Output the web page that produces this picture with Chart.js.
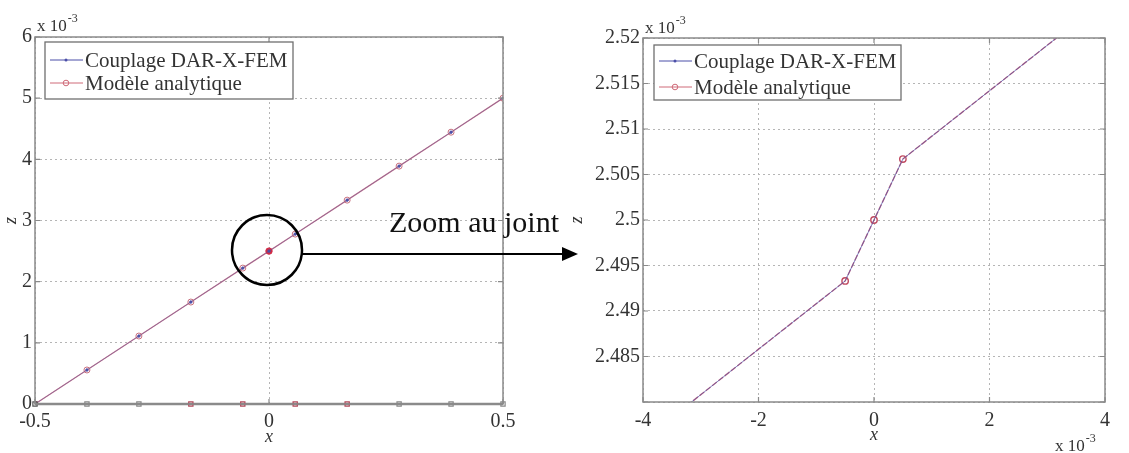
<!DOCTYPE html>
<html>
<head>
<meta charset="utf-8">
<script src="https://cdn.jsdelivr.net/npm/chart.js@4/dist/chart.umd.min.js"></script>
<style>
  body { margin: 0; background: #fff; width: 1129px; height: 453px; position: relative; overflow: hidden; font-family: 'Liberation Serif', serif; }
  #left { position: absolute; left: 0; top: 0; }
  #right { position: absolute; left: 560px; top: 0; }
  #overlay { position: absolute; left: 0; top: 0; pointer-events: none; }
  #zoomText { position: absolute; left: 389px; top: 205px; font-size: 30px; color: #111; white-space: nowrap; }
</style>
</head>
<body>
<canvas id="left" width="560" height="453"></canvas>
<canvas id="right" width="569" height="453"></canvas>
<svg id="overlay" width="1129" height="453">
  <circle cx="267" cy="250" r="35" fill="none" stroke="#000" stroke-width="2.5"/>
  <line x1="302" y1="254" x2="566" y2="254" stroke="#000" stroke-width="2"/>
  <polygon points="578,254 562,247 562,261" fill="#000"/>
</svg>
<div id="zoomText">Zoom au joint</div>
<script>
// left plot: whole bar, x in m, z in units of 1e-3
const nodeX = [-0.5, -0.389, -0.278, -0.167, -0.056, 0.056, 0.167, 0.278, 0.389, 0.5];
const nodeZero = [0, 0, 0, 0, 0, 0, 0, 0, 0, 0];
const nodeColors = ['#555', '#888', '#888', '#b04a5a', '#b04a5a', '#b04a5a', '#b04a5a', '#888', '#888', '#888'];
const fullX = [-0.5, -0.389, -0.278, -0.167, -0.056, 0, 0.056, 0.167, 0.278, 0.389, 0.5];
const fullCouplage = [0, 0.556, 1.111, 1.667, 2.222, 2.5, 2.778, 3.333, 3.889, 4.444, 5.0];
const fullAnalytique = [0, 0.556, 1.111, 1.667, 2.222, 2.5, 2.778, 3.333, 3.889, 4.444, 5.0];
const leftXTicks = [-0.5, 0, 0.5];
const leftYTicks = [0, 1, 2, 3, 4, 5, 6];

// right plot: zoom around the joint, x and z in units of 1e-3
const zoomX = [-4, -0.5, 0, 0.5, 4];
const zoomCouplage = [2.4758, 2.4933, 2.5, 2.5067, 2.5242];
const zoomAnalytique = [2.4758, 2.4933, 2.5, 2.5067, 2.5242];
const zoomMarkX = [-0.5, 0, 0.5];
const zoomMarkZ = [2.4933, 2.5, 2.5067];
const rightXTicks = [-4, -2, 0, 2, 4];
const rightYTicks = [2.48, 2.485, 2.49, 2.495, 2.5, 2.505, 2.51, 2.515, 2.52];

const legendLabels = ['Couplage DAR-X-FEM', 'Modèle analytique'];

const SERIF = "'Liberation Serif', 'Times New Roman', serif";
const BLUE = '#4b4fa8';
const RED = '#cf6a78';

function pts(xs, ys) {
  return xs.map((x, i) => ({ x: x, y: ys[i] }));
}

function drawExp(ctx, x, y) {
  ctx.fillStyle = '#333';
  ctx.textAlign = 'left';
  ctx.textBaseline = 'alphabetic';
  ctx.font = '17px ' + SERIF;
  ctx.fillText('x 10', x, y);
  const w = ctx.measureText('x 10').width;
  ctx.font = '12px ' + SERIF;
  ctx.fillText('-3', x + w + 1, y - 9);
}

// box around the axes with inward ticks, legend and the "x 10^-3" factors
const matlabBox = {
  id: 'matlabBox',
  afterDraw(chart, args, opts) {
    const ctx = chart.ctx;
    const a = chart.chartArea;
    ctx.save();
    ctx.strokeStyle = '#8a8a8a';
    ctx.lineWidth = 1.5;
    ctx.strokeRect(a.left, a.top, a.right - a.left, a.bottom - a.top);
    ctx.lineWidth = 1.2;
    ctx.beginPath();
    chart.scales.x.ticks.forEach(t => {
      const px = chart.scales.x.getPixelForValue(t.value);
      ctx.moveTo(px, a.bottom); ctx.lineTo(px, a.bottom - 5);
      ctx.moveTo(px, a.top); ctx.lineTo(px, a.top + 5);
    });
    chart.scales.y.ticks.forEach(t => {
      const py = chart.scales.y.getPixelForValue(t.value);
      ctx.moveTo(a.left, py); ctx.lineTo(a.left + 5, py);
      ctx.moveTo(a.right, py); ctx.lineTo(a.right - 5, py);
    });
    ctx.stroke();

    const lx = a.left + opts.dx, ly = a.top + opts.dy;
    ctx.fillStyle = '#fff';
    ctx.fillRect(lx, ly, opts.w, opts.h);
    ctx.strokeStyle = '#6f6f6f';
    ctx.lineWidth = 1.3;
    ctx.strokeRect(lx, ly, opts.w, opts.h);
    const colors = [BLUE, RED];
    legendLabels.forEach((label, i) => {
      const yy = ly + opts.rowY[i];
      ctx.strokeStyle = colors[i];
      ctx.lineWidth = 1;
      ctx.beginPath();
      ctx.moveTo(lx + 5, yy);
      ctx.lineTo(lx + 38, yy);
      ctx.stroke();
      ctx.beginPath();
      if (i === 0) {
        ctx.fillStyle = colors[i];
        ctx.arc(lx + 21, yy, 1.5, 0, Math.PI * 2);
        ctx.fill();
      } else {
        ctx.arc(lx + 21, yy, 2.8, 0, Math.PI * 2);
        ctx.stroke();
      }
      ctx.fillStyle = '#333';
      ctx.font = '21px ' + SERIF;
      ctx.textAlign = 'left';
      ctx.textBaseline = 'middle';
      ctx.fillText(label, lx + 40, yy + 1);
    });

    opts.exps.forEach(p => drawExp(ctx, p[0], p[1]));
    ctx.restore();
  }
};

const tickFont = { family: SERIF, size: 20 };
const gridDots = { display: false, dash: [2, 3] };

function fmt(v) {
  return String(+v.toFixed(3));
}

new Chart(document.getElementById('left'), {
  type: 'scatter',
  data: {
    datasets: [
      {
        label: 'noeuds',
        data: pts(nodeX, nodeZero),
        showLine: true,
        clip: false,
        borderColor: '#8c8c8c',
        borderWidth: 2.5,
        pointStyle: 'rect',
        pointRadius: 3,
        pointBackgroundColor: 'rgba(0,0,0,0)',
        pointBorderColor: nodeColors,
        pointBorderWidth: 1.2
      },
      {
        label: legendLabels[0],
        data: pts(fullX, fullCouplage),
        showLine: true,
        borderColor: 'rgba(75,79,168,0.5)',
        borderWidth: 1,
        pointRadius: 1.2,
        pointBackgroundColor: BLUE,
        pointBorderColor: BLUE
      },
      {
        label: legendLabels[1],
        data: pts(fullX, fullAnalytique),
        showLine: true,
        borderColor: 'rgba(214,120,132,0.95)',
        borderWidth: 1.3,
        pointRadius: fullX.map(x => x === 0 ? 3.2 : 3),
        pointBackgroundColor: fullX.map(x => x === 0 ? '#d02a44' : 'rgba(0,0,0,0)'),
        pointBorderColor: fullX.map(x => x === 0 ? '#d02a44' : '#c8707e'),
        pointBorderWidth: 1
      }
    ]
  },
  options: {
    responsive: false,
    animation: false,
    layout: { padding: { top: 37, right: 57, left: 0, bottom: 0 } },
    plugins: {
      legend: { display: false },
      tooltip: { enabled: false },
      matlabBox: { dx: 10, dy: 5, w: 248, h: 57, rowY: [18, 41], exps: [[37, 31]] }
    },
    scales: {
      x: {
        type: 'linear',
        min: -0.5,
        max: 0.5,
        afterBuildTicks: s => { s.ticks = leftXTicks.map(v => ({ value: v })); },
        afterFit: s => { s.height = 49; },
        ticks: { font: tickFont, color: '#333', padding: 6, callback: v => fmt(v), maxRotation: 0 },
        grid: { color: '#b5b5b5', drawTicks: false, lineWidth: 1 },
        border: gridDots,
        title: { display: true, text: 'x', font: { family: SERIF, size: 18, style: 'italic' }, color: '#333', padding: { top: 0, bottom: 5 } }
      },
      y: {
        min: 0,
        max: 6,
        afterBuildTicks: s => { s.ticks = leftYTicks.map(v => ({ value: v })); },
        afterFit: s => { s.width = 35; },
        ticks: { font: tickFont, color: '#333', padding: 3, callback: v => fmt(v) },
        grid: { color: '#b5b5b5', drawTicks: false, lineWidth: 1 },
        border: gridDots,
        title: { display: true, text: 'z', font: { family: SERIF, size: 18, style: 'italic' }, color: '#333', padding: { top: 0, bottom: 0 } }
      }
    }
  },
  plugins: [matlabBox]
});

new Chart(document.getElementById('right'), {
  type: 'scatter',
  data: {
    datasets: [
      {
        label: legendLabels[0],
        data: pts(zoomX, zoomCouplage),
        showLine: true,
        borderColor: 'rgba(75,79,168,0.7)',
        borderWidth: 1,
        pointRadius: 0
      },
      {
        label: legendLabels[1],
        data: pts(zoomX, zoomAnalytique),
        showLine: true,
        borderColor: 'rgba(200,95,115,0.9)',
        borderWidth: 1.4,
        borderDash: [6, 2],
        pointRadius: 0
      },
      {
        label: 'marques',
        data: pts(zoomMarkX, zoomMarkZ),
        showLine: false,
        pointRadius: 3.2,
        pointBackgroundColor: 'rgba(0,0,0,0)',
        pointBorderColor: '#c04a60',
        pointBorderWidth: 1.4
      }
    ]
  },
  options: {
    responsive: false,
    animation: false,
    layout: { padding: { top: 38, right: 24, left: 0, bottom: 0 } },
    plugins: {
      legend: { display: false },
      tooltip: { enabled: false },
      matlabBox: { dx: 11, dy: 7, w: 247, h: 55, rowY: [16, 42], exps: [[85, 33], [495, 451]] }
    },
    scales: {
      x: {
        type: 'linear',
        min: -4,
        max: 4,
        afterBuildTicks: s => { s.ticks = rightXTicks.map(v => ({ value: v })); },
        afterFit: s => { s.height = 51; },
        ticks: { font: tickFont, color: '#333', padding: 7, callback: v => fmt(v), maxRotation: 0 },
        grid: { color: '#b5b5b5', drawTicks: false, lineWidth: 1 },
        border: gridDots,
        title: { display: true, text: 'x', font: { family: SERIF, size: 18, style: 'italic' }, color: '#333', padding: { top: 0, bottom: 7 } }
      },
      y: {
        min: 2.48,
        max: 2.52,
        afterBuildTicks: s => { s.ticks = rightYTicks.map(v => ({ value: v })); },
        afterFit: s => { s.width = 83; },
        ticks: { font: tickFont, color: '#333', padding: 3, callback: v => Math.abs(v - 2.48) < 1e-9 ? '' : fmt(v) },
        grid: { color: '#b5b5b5', drawTicks: false, lineWidth: 1 },
        border: gridDots,
        title: { display: true, text: 'z', font: { family: SERIF, size: 18, style: 'italic' }, color: '#333', padding: { top: 6, bottom: 0 } }
      }
    }
  },
  plugins: [matlabBox]
});
</script>
</body>
</html>
